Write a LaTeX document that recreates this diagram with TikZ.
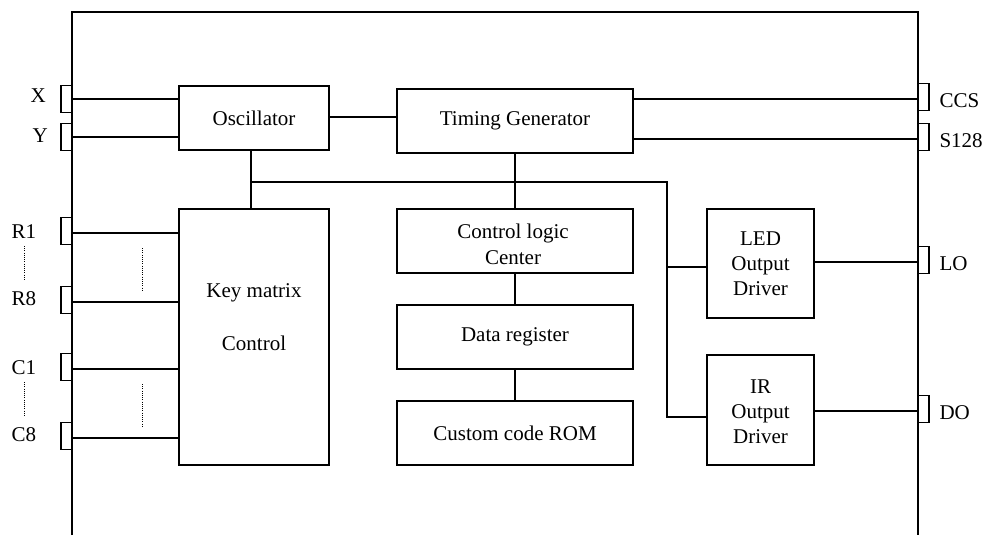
\documentclass[tikz,border=0pt]{standalone}
\usepackage{fontspec}
\setmainfont{Liberation Serif}
\begin{document}
\begin{tikzpicture}[x=1pt,y=-1pt, line width=1.1pt,
  font=\fontsize{21}{25}\selectfont,
  box/.style={draw, rectangle, inner sep=0pt, align=center},
  pinbox/.style={draw, rectangle, minimum width=11pt, minimum height=27pt, inner sep=0pt},
  lbl/.style={inner sep=0pt, anchor=base west},
  dotline/.style={line width=1pt, dash pattern=on 1pt off 1.2pt}]
\path[use as bounding box] (0,0) rectangle (984,535);
% outer frame
\coordinate (fbl) at (72,535); \coordinate (ftl) at (72,12);
\coordinate (ftr) at (918,12); \coordinate (fbr) at (918,535);
\draw (fbl) -- (ftl) -- (ftr) -- (fbr);
% blocks
\node[box, minimum width=150pt, minimum height=64pt] (osc) at (254,118) {Oscillator};
\node[box, minimum width=236pt, minimum height=64pt] (tg) at (515,121) {Timing Generator};
\node[box, minimum width=150pt, minimum height=256pt] (km) at (254,337) {};
\node[align=center, inner sep=0pt] (kmt) at (254,317) {Key matrix\\[28pt]Control};
\node[box, minimum width=236pt, minimum height=64pt] (cl) at (515,241) {};
\node[align=center, inner sep=0pt] (clt) at (513,244) {Control logic\\[1pt]Center};
\node[box, minimum width=236pt, minimum height=64pt] (dr) at (515,337) {Data register};
\node[box, minimum width=236pt, minimum height=64pt] (rom) at (515,433) {Custom code ROM};
\node[box, minimum width=107pt, minimum height=109pt] (led) at (760.5,263.5) {LED\\Output\\Driver};
\node[box, minimum width=107pt, minimum height=110pt] (ir) at (760.5,410) {};
\node[align=center, inner sep=0pt] (irt) at (760.5,412) {IR\\Output\\Driver};
% pins left
\node[pinbox] (px) at (66.5,99) {};
\node[pinbox] (py) at (66.5,137) {};
\node[pinbox] (pr1) at (66.5,231) {};
\node[pinbox] (pr8) at (66.5,300) {};
\node[pinbox] (pc1) at (66.5,367) {};
\node[pinbox] (pc8) at (66.5,436) {};
% pins right
\node[pinbox] (pccs) at (923.5,97) {};
\node[pinbox] (ps) at (923.5,137) {};
\node[pinbox] (plo) at (923.5,260) {};
\node[pinbox] (pdo) at (923.5,409) {};
% labels
\node[lbl] (lx) at (30,102) {X};
\node[lbl] (ly) at (32,142) {Y};
\node[lbl] (lr1) at (11,238) {R1};
\node[lbl] (lr8) at (11,305) {R8};
\node[lbl] (lc1) at (11,374) {C1};
\node[lbl] (lc8) at (11,441) {C8};
\node[lbl] (lccs) at (939,107) {CCS};
\node[lbl] (ls) at (939,147) {S128};
\node[lbl] (llo) at (939,270) {LO};
\node[lbl] (ldo) at (939,419) {DO};
% dotted ellipsis marks
\coordinate (d1a) at (24,246); \coordinate (d1b) at (24,281);
\coordinate (d2a) at (24,382); \coordinate (d2b) at (24,417);
\coordinate (d3a) at (142,248); \coordinate (d3b) at (142,292);
\coordinate (d4a) at (142,384); \coordinate (d4b) at (142,428);
\draw[dotline] (d1a) -- (d1b);
\draw[dotline] (d2a) -- (d2b);
\draw[dotline] (d3a) -- (d3b);
\draw[dotline] (d4a) -- (d4b);
% left pin connections
\coordinate (cx) at (72,99); \coordinate (cy) at (72,137);
\coordinate (cr1) at (72,233); \coordinate (cr8) at (72,302);
\coordinate (cc1) at (72,369); \coordinate (cc8) at (72,438);
\draw (cx) -- (cx -| osc.west);
\draw (cy) -- (cy -| osc.west);
\draw (cr1) -- (cr1 -| km.west);
\draw (cr8) -- (cr8 -| km.west);
\draw (cc1) -- (cc1 -| km.west);
\draw (cc8) -- (cc8 -| km.west);
% right pin connections
\coordinate (cccs) at (918,99); \coordinate (cs) at (918,139);
\coordinate (clo) at (918,262); \coordinate (cdo) at (918,411);
\draw (cccs -| tg.east) -- (cccs);
\draw (cs -| tg.east) -- (cs);
\draw (clo -| led.east) -- (clo);
\draw (cdo -| ir.east) -- (cdo);
% internal connections
\coordinate (ot) at (329,117);
\draw (ot) -- (ot -| tg.west);
\coordinate (j1) at (251,182); \coordinate (j2) at (667,182);
\coordinate (j3) at (667,417); \coordinate (j4) at (667,267);
\draw (j1 |- osc.south) -- (j1 |- km.north);
\draw (j1) -- (j2) -- (j3) -- (j3 -| ir.west);
\draw (j4) -- (j4 -| led.west);
\draw (tg.south) -- (cl.north);
\draw (cl.south) -- (dr.north);
\draw (dr.south) -- (rom.north);
\end{tikzpicture}
\end{document}
